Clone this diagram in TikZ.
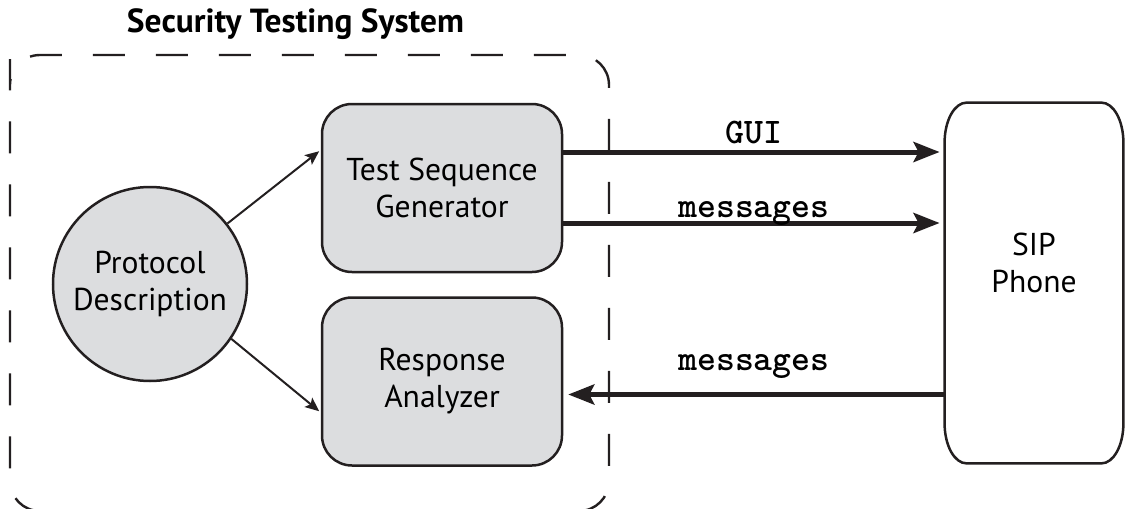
\documentclass[tikz,border=0pt]{standalone}
\usepackage{fontspec}
\setmainfont{PT Sans}
\newfontfamily\codefont{lmmonolt10-bold.otf}
\usetikzlibrary{positioning,arrows.meta}
\definecolor{boxgray}{RGB}{220,221,223}
\definecolor{inkblack}{RGB}{35,31,32}
\tikzstyle{block} = [draw=inkblack, line width=1.25pt, fill=boxgray, rounded corners=15pt,
	minimum width=120pt, minimum height=84pt, align=center, font=\fontsize{15.8}{18.5}\selectfont]
\tikzstyle{source} = [draw=inkblack, line width=1.25pt, fill=boxgray, circle, minimum size=97pt,
	inner sep=0pt, align=center, font=\fontsize{15.8}{18.5}\selectfont]
\tikzstyle{phonebox} = [minimum width=89pt, minimum height=180pt, inner sep=0pt]
\tikzstyle{phoneline} = [draw=inkblack, line width=1.25pt]
\tikzstyle{sysbox} = [draw=inkblack, line width=1.2pt, rounded corners=15pt, dash pattern=on 16pt off 15.5pt]
\tikzstyle{thinArrow} = [draw=inkblack, line width=1pt, -{Stealth[length=7pt,width=6pt,inset=1.5pt]}, shorten >=1pt]
\tikzstyle{msgArrow} = [draw=inkblack, line width=2.5pt, -{Stealth[length=13pt,width=10pt,inset=2.5pt]}, shorten >=2.5pt]
\tikzstyle{msgLabel} = [anchor=base, inner sep=0pt, font=\codefont\fontsize{18}{20}\selectfont]

\begin{document}
\begin{tikzpicture}[x=0.5pt, y=-0.5pt, node distance=11.5pt]
		\useasboundingbox (0,0) rectangle (1126,509);
		% nodes
		\node[font=\fontsize{16.7}{19}\selectfont\bfseries, anchor=base] (title) at (295.5,32) {Security Testing System};
		\node[block] (tsg) at (442,188) {Test Sequence\\Generator};		% Testsequenz-Generator
		\node[block, below=of tsg] (resp) {Response\\Analyzer};			% Antwort-Analyse
		\node[source] (proto) at (150,284) {Protocol\\Description};		% Protokollbeschreibung
		\node[phonebox, label={[align=center, yshift=10pt, font=\fontsize{15.8}{18.5}\selectfont]center:SIP\\Phone}] (sip) at (1034,283) {};
		
		% phone outline with flat corners
		\draw[phoneline] ([xshift=11pt]sip.north west) -- ([xshift=-11pt]sip.north east)
			arc[start angle=90, end angle=0, x radius=11pt, y radius=20pt]
			-- ([yshift=20pt]sip.south east)
			arc[start angle=0, end angle=-90, x radius=11pt, y radius=20pt]
			-- ([xshift=11pt]sip.south west)
			arc[start angle=270, end angle=180, x radius=11pt, y radius=20pt]
			-- ([yshift=-20pt]sip.north west)
			arc[start angle=180, end angle=90, x radius=11pt, y radius=20pt] -- cycle;
		
		% system border, bottom edge lies below the page
		\draw[sysbox] (10,89) -- (10,55) -- (609,55) -- (609,511) -- (10,511) -- cycle;
		
		% arrows
		\draw[thinArrow] (proto.38) -- ([yshift=19pt]tsg.west);
		\draw[thinArrow] (proto.-34) -- ([yshift=-15.5pt]resp.west);
		\draw[msgArrow] ([yshift=18pt]tsg.east) -- ([yshift=18pt]tsg.east -| sip.west)
			node[msgLabel, midway, yshift=4.5pt] {GUI};
		\draw[msgArrow] ([yshift=-17.5pt]tsg.east) -- ([yshift=-17.5pt]tsg.east -| sip.west)
			node[msgLabel, midway, yshift=3pt] {messages};
		\draw[msgArrow] ([yshift=-6.5pt]resp.east -| sip.west) -- ([yshift=-6.5pt]resp.east)
			node[msgLabel, midway, yshift=12pt] {messages};
\end{tikzpicture}
\end{document}
